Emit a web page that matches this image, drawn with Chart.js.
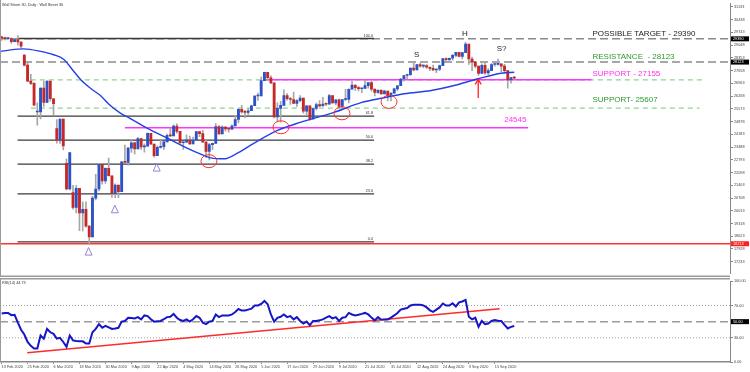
<!DOCTYPE html>
<html><head><meta charset="utf-8">
<script src="https://cdn.jsdelivr.net/npm/chart.js@4.4.1/dist/chart.umd.min.js"></script>
<style>
html,body{margin:0;padding:0;background:#fff;}
#wrap{position:relative;width:750px;height:372px;overflow:hidden;background:#fff;}
#main{position:absolute;left:0;top:0;}
#rsi{position:absolute;left:0;top:278px;}
</style></head><body>
<div id="wrap"><canvas id="main" width="750" height="277"></canvas><canvas id="rsi" width="750" height="94"></canvas></div>
<script>
// ---------- DATA ----------
const tickIdx = [0,8,16,24,32,40,48,56,64,72,80,88,96,104,112,120,128,136,144,152];
const tickLabels = ['13 Feb 2020','25 Feb 2020','6 Mar 2020','18 Mar 2020','30 Mar 2020','9 Apr 2020','22 Apr 2020','4 May 2020','14 May 2020','26 May 2020','5 Jun 2020','17 Jun 2020','29 Jun 2020','9 Jul 2020','21 Jul 2020','31 Jul 2020','12 Aug 2020','24 Aug 2020','3 Sep 2020','15 Sep 2020'];
const priceTicks = [17233,17928,18623,19318,20013,20708,21403,22098,22793,23488,24183,24878,25573,26268,26963,27658,28353,29048,29743,30438,31133];

const opens = [
29500,29420,29400,29410,29230,29350,29220,28500,27960,27080,
26960,25400,25410,26700,25920,27090,26120,24500,23850,25020,
22600,21200,21000,20190,21240,19900,20090,19170,18590,20700,
21200,22550,21640,22330,21920,20940,21410,21050,22680,22650,
23430,23720,23390,23950,23500,23540,24240,23650,23020,23470,
23510,23770,24130,24100,24630,24340,23720,23750,23880,23660,
23870,24330,24220,23760,23250,23620,23690,24600,24210,24580,
24470,24460,24640,24990,25550,25400,25380,25470,25740,26270,
26280,27110,27570,27270,26990,25130,25600,25760,26290,26120,
26080,25870,26020,26160,25450,25740,25020,25590,25810,25730,
25830,25820,26290,25890,26070,25710,26080,26090,26640,26870,
26730,26670,26680,26840,27000,26650,26470,26580,26380,26540,
26310,26430,26660,26830,27200,27390,27430,27790,27690,27980,
27900,27930,27840,27780,27690,27740,27930,28310,28250,28330,
28490,28650,28430,28640,29100,28290,28130,27900,27500,27940,
27530,27660,27990,28000,28030,27900,27660,27150,27280];
const highs = [
29530,29480,29440,29450,29420,29570,29240,28530,28160,27450,
27000,25900,26720,27090,27100,27090,26150,24990,25020,25020,
22840,23190,21400,21400,21240,20500,20500,19200,20800,22000,
22600,22550,22360,22880,21920,21480,21410,22700,23600,23470,
23900,23750,24000,23950,23660,24260,24240,23650,23560,23880,
23800,24200,24500,24700,24760,24340,23790,24150,24080,24030,
24330,24330,24400,23870,23690,23700,24770,24660,24640,24610,
24540,24700,25220,25580,25760,25490,25590,25780,26300,26430,
27300,27580,27570,27370,26990,25900,25980,26610,26400,26200,
26490,26080,26290,26160,25750,25740,25600,25900,26020,26200,
25900,26360,26290,26080,26100,26090,26630,26660,27100,26870,
26800,26700,27150,27020,27100,26650,26620,26620,26590,26540,
26440,26700,26850,27240,27400,27470,27800,28100,28000,28050,
27970,27980,27870,27960,27760,27960,28330,28350,28350,28540,
28660,28650,28650,29200,29100,28390,28150,27900,28030,28130,
27770,28040,28100,28290,28030,28000,27660,27290,27350];
const lows = [
29300,29330,29360,29140,29220,29050,28890,27900,27050,26890,
25760,24680,25020,25700,25920,25990,25230,23700,23690,23330,
21150,21150,20100,19900,18920,18910,19120,18210,18590,20600,
21100,21460,21500,21900,20740,20730,20730,21050,22630,22500,
23200,23100,23390,23360,23210,23540,23640,22940,23020,23420,
23360,23770,24060,24100,24240,23640,23360,23750,23630,23660,
23870,24060,23760,22920,22790,23350,23690,24180,24210,24350,
24300,24440,24640,24800,25330,25080,25220,25470,25740,26030,
26280,27110,27150,26950,25080,24860,24840,25760,26050,25810,
25870,25700,25950,25330,25240,24960,25010,25510,25680,25730,
25750,25820,25880,25790,25620,25570,26020,25900,26640,26570,
26550,26460,26680,26700,26540,26280,26410,26370,26380,26000,
26000,26430,26550,26830,27080,27200,27400,27640,27690,27840,
27800,27770,27650,27650,27550,27650,27930,28130,28150,28230,
28400,28410,28300,28640,28000,27660,27800,27400,27500,27450,
27440,27660,27900,27960,27600,27500,26700,26970,27180];
const closes = [
29420,29400,29410,29230,29350,29220,28990,27960,27080,26960,
25770,25410,26700,25920,27090,26120,25860,23850,25020,23550,
21200,23180,20190,21240,19900,20090,19170,18590,20700,21200,
22550,21640,22330,21920,20940,21410,21050,22680,22650,23430,
23720,23390,23950,23500,23540,24240,23650,23020,23470,23510,
23770,24130,24100,24630,24340,23720,23750,23880,23660,23870,
24330,24220,23760,23250,23620,23690,24600,24210,24580,24470,
24460,24640,24990,25550,25400,25380,25470,25740,26270,26280,
27110,27570,27270,26990,25130,25600,25760,26290,26120,26080,
25870,26020,26160,25450,25740,25020,25590,25810,25730,25830,
25820,26290,25890,26070,25710,26080,26090,26640,26870,26730,
26670,26680,26840,27000,26650,26470,26580,26380,26540,26310,
26430,26660,26830,27200,27390,27430,27790,27690,27980,27900,
27930,27840,27780,27690,27740,27930,28310,28250,28330,28490,
28650,28430,28640,29100,28290,28130,27900,27500,27940,27530,
27660,27990,28000,28030,27900,27660,27150,27280,27250];

const maIdx = [-0.3,2.8,6.8,12,16,19.1,21.9,24.4,27.5,30.6,33.6,36.7,39.8,43.8,46,51.2,56.2,60.5,64.5,68.5,72.8,76.9,85.2,92.3,102.5,110.8,117.9,124.1,132.4,138.6,146.9,154,158];
const maVal = [28705,28790,28843,28705,28524,28279,27693,27160,26681,26271,25738,25328,25030,24620,24407,23965,23517,23166,22899,22846,23166,23608,24407,24849,25381,25914,26180,26393,26574,26803,27213,27512,27565];

const rsi = [
60.1,60.8,60.8,58,58.5,48.8,40,34,24.8,20,
16.8,16.8,32.8,28.9,40.9,36.8,34.9,28.9,30,24.8,
18.8,32.8,26.8,26,25.8,25.6,22.8,22.8,36.8,41,
46.9,42.4,44.8,43,40.9,41.5,42.4,50,50.8,54.8,
54.5,54,55.6,52.8,57.7,56.9,53,50,50.5,50.8,
53,55.6,56,59.6,54.8,52,50.8,52.8,50,53,
56.9,54.8,48.8,46.9,50,50.8,58.9,55.6,57.7,57.7,
57.7,58.9,62,65.6,63.7,63.7,64.9,66.1,70,70,
72,75.7,71.6,58.9,50,54.8,56,58.9,55.6,56.9,
52.8,55.6,50.8,47.6,50,45.7,50.8,50.8,51.6,52.8,
55,56.9,54,55.6,50.8,54.8,55.6,60.8,58.9,57.7,
58.5,59.6,60.8,58.9,55,51.6,55.6,52.4,52.8,52.8,
55,57.7,60.8,64.9,66,66.8,70,70.8,70.8,70.8,
70,67.6,64,62,64.9,67.6,72.5,70,70,72.8,
68.8,74,75,76.9,56,52.8,54.8,43.6,50.8,46.9,
47.6,50.8,52,51,50.8,46,41.6,43.5,44.7];

const fibPcts = [0, 23.6, 38.2, 50, 61.8, 100];
const fibLow = 18320, fibHigh = 29410;
const targetPrice = 29390, resistancePrice = 28123, support1 = 27155, support2 = 25607, support3 = 24545, lowPrice = 18213;
const rsiLevels = [30, 50, 70];
const rsiTrend = [{i:7.9, v:11.6},{i:153.5, v:65.9}];

// ---------- LAYOUT / STYLE ----------
const XMIN = -0.5, XMAX = 224.5;
const FONT = '"Liberation Sans", Arial, sans-serif';
Chart.defaults.font.family = FONT;

function seg(x0, x1, v, color, width, dash, order){
  return {type:'line', data:[{x:x0,y:v},{x:x1,y:v}], borderColor:color, borderWidth:width, borderDash:dash||[], pointRadius:0, order:order||3, parsing:true};
}

const fibDs = fibPcts.map(p => seg(4.9, 114.8, fibLow + (fibHigh-fibLow)*p/100, '#3a3a3a', 1.3, [], 4));
const lineDs = [
  seg(XMIN, XMAX, targetPrice, '#8a8a8a', 1.5, [8,4], 5),
  seg(XMIN, XMAX, resistancePrice, '#8a8a8a', 1.5, [8,4], 5),
  seg(9, 216.4, support1, '#8fd48f', 1.2, [5,4], 5),
  seg(9, 215.1, support2, '#8fd48f', 1.2, [5,4], 5),
  seg(80.6, 181.8, support1, '#ff33ff', 1.5, [], 4),
  seg(38, 162.3, support3, '#ff33ff', 1.5, [], 4),
  seg(XMIN, XMAX, lowPrice, '#ff3333', 1.5, [], 4)
];

const wickDs = {type:'bar', data: highs.map((h,i)=>({x:i, y:[lows[i], h]})), backgroundColor:'#a6a6a6', barThickness:1, grouped:false, order:2};
const bodyDs = {type:'bar', data: opens.map((o,i)=>({x:i, y:[Math.min(o,closes[i]), Math.max(o,closes[i])]})),
  backgroundColor: opens.map((o,i)=> closes[i] >= o ? '#2d52c6' : '#c62828'), barThickness:2.2, grouped:false, minBarLength:1, order:1};
const maDs = {type:'line', data: maIdx.map((v,k)=>({x:v, y:maVal[k]})), borderColor:'#2340e6', borderWidth:1.4, pointRadius:0, cubicInterpolationMode:'monotone', order:0};

const texts = [
  {t:'POSSIBLE TARGET - 29390', i:182.1, p:29669, c:'#1a1a1a'},
  {t:'RESISTANCE  - 28123', i:182.1, p:28401, c:'#2e9a2e'},
  {t:'SUPPORT - 27155', i:182.1, p:27480, c:'#ff33ee'},
  {t:'SUPPORT- 25607', i:182.1, p:26058, c:'#2e9a2e'},
  {t:'24545', i:154.9, p:24955, c:'#ff33ee'},
  {t:'S', i:127.1, p:28524, c:'#222'},
  {t:'H', i:141.9, p:29642, c:'#222'},
  {t:'S?', i:152.6, p:28843, c:'#222'}
];
const circles = [{i:63.9,p:22718},{i:86.1,p:24566},{i:104.9,p:25328},{i:119.4,p:25951}];
const triangles = [{i:26.8,p:17787},{i:34.9,p:20093},{i:47.8,p:22367}];
const arrow = {i:146.9, from:26164, to:27176};
const boxes = [{v:targetPrice, t:'29390', c:'#000'},{v:resistancePrice, t:'28123', c:'#000'},{v:lowPrice, t:'18213', c:'#ff2020'}];

const annPlugin = {
  id:'ann',
  afterDatasetsDraw(chart){
    const {ctx, scales:{x,y}} = chart;
    const X = v => x.getPixelForValue(v), Y = v => y.getPixelForValue(v);
    ctx.save();
    // fib labels
    ctx.font = '3.8px ' + FONT; ctx.fillStyle = '#333'; ctx.textAlign = 'right'; ctx.textBaseline = 'bottom';
    fibPcts.forEach(p => { const v = fibLow + (fibHigh-fibLow)*p/100; ctx.fillText(p.toFixed(1), X(114.5), Y(v) - 1); });
    // texts
    ctx.textBaseline = 'middle';
    texts.forEach(o => {
      ctx.font = '8px ' + FONT; ctx.fillStyle = o.c;
      ctx.textAlign = (o.t.length <= 2) ? 'left' : 'left';
      ctx.fillText(o.t, X(o.i), Y(o.p));
    });
    // circles
    ctx.strokeStyle = '#ff3030'; ctx.lineWidth = 1;
    circles.forEach(o => { ctx.beginPath(); ctx.ellipse(X(o.i), Y(o.p), 8, 6.5, 0, 0, Math.PI*2); ctx.stroke(); });
    // triangles
    ctx.strokeStyle = '#9b80d6'; ctx.lineWidth = 1;
    triangles.forEach(o => { const cx = X(o.i), cy = Y(o.p); ctx.beginPath(); ctx.moveTo(cx, cy-4); ctx.lineTo(cx-3.5, cy+3.5); ctx.lineTo(cx+3.5, cy+3.5); ctx.closePath(); ctx.stroke(); });
    // arrow
    const ax = X(arrow.i), ay0 = Y(arrow.from), ay1 = Y(arrow.to);
    ctx.strokeStyle = '#ff2020'; ctx.lineWidth = 1.3;
    ctx.beginPath(); ctx.moveTo(ax, ay0); ctx.lineTo(ax, ay1); ctx.stroke();
    ctx.beginPath(); ctx.moveTo(ax-3, ay1+5); ctx.lineTo(ax, ay1); ctx.lineTo(ax+3, ay1+5); ctx.stroke();
    // right-axis boxes
    boxes.forEach(b => { const yy = Y(b.v); ctx.fillStyle = b.c; ctx.fillRect(731, yy-2.5, 18, 5); ctx.fillStyle = '#fff'; ctx.font = '3.8px ' + FONT; ctx.textAlign = 'left'; ctx.fillText(b.t, 733, yy); });
    // title
    ctx.fillStyle = '#333'; ctx.font = '3.8px ' + FONT; ctx.textAlign = 'left'; ctx.textBaseline = 'middle';
    ctx.fillText('Wall Street 30, Daily : Wall Street 30', 2, 5);
    // borders
    ctx.strokeStyle = '#9a9a9a'; ctx.lineWidth = 1.5;
    ctx.beginPath(); ctx.moveTo(0, 276.2); ctx.lineTo(730, 276.2); ctx.stroke();
    ctx.lineWidth = 1; ctx.beginPath(); ctx.moveTo(0.5, 0); ctx.lineTo(0.5, 277); ctx.stroke();
    ctx.restore();
  }
};

new Chart(document.getElementById('main'), {
  data:{datasets:[maDs, bodyDs, wickDs, ...fibDs, ...lineDs]},
  options:{
    responsive:false, animation:false, devicePixelRatio:1,
    layout:{padding:0},
    plugins:{legend:{display:false}, tooltip:{enabled:false}},
    scales:{
      x:{type:'linear', min:XMIN, max:XMAX, offset:false, display:false},
      y:{type:'linear', position:'right', min:16578, max:31330,
        afterFit(s){ s.width = 20; },
        afterBuildTicks(s){ s.ticks = priceTicks.map(v=>({value:v})); },
        ticks:{font:{size:3.8}, color:'#444', padding:1, autoSkip:false, callback:v=>String(v)},
        grid:{drawOnChartArea:false, tickLength:3, color:'#888'},
        border:{color:'#888', width:1}
      }
    }
  },
  plugins:[annPlugin]
});

const rsiPlugin = {
  id:'rsiann',
  afterDatasetsDraw(chart){
    const {ctx, scales:{y}} = chart;
    ctx.save();
    ctx.fillStyle = '#333'; ctx.font = '3.8px ' + FONT; ctx.textBaseline = 'middle'; ctx.textAlign = 'left';
    ctx.fillText('RSI(14) 44.73', 2, 5);
    const yy = y.getPixelForValue(50);
    ctx.fillStyle = '#000'; ctx.fillRect(731, yy-2.5, 18, 5); ctx.fillStyle = '#fff'; ctx.fillText('50.00', 733, yy);
    ctx.strokeStyle = '#9a9a9a'; ctx.lineWidth = 1.5;
    ctx.beginPath(); ctx.moveTo(0, 0.8); ctx.lineTo(730, 0.8); ctx.stroke();
    ctx.lineWidth = 1; ctx.beginPath(); ctx.moveTo(0.5, 0); ctx.lineTo(0.5, 84); ctx.stroke();
    ctx.restore();
  }
};

new Chart(document.getElementById('rsi'), {
  type:'line',
  data:{datasets:[
    {data: rsi.map((v,i)=>({x:i, y:v})), borderColor:'#1616c8', borderWidth:2, pointRadius:0, order:0},
    {data: rsiTrend.map(o=>({x:o.i, y:o.v})), borderColor:'#ff2a2a', borderWidth:1.5, pointRadius:0, order:1},
    {data:[{x:XMIN,y:rsiLevels[1]},{x:XMAX,y:rsiLevels[1]}], borderColor:'#9a9a9a', borderWidth:1.5, borderDash:[8,4], pointRadius:0, order:3},
    {data:[{x:XMIN,y:rsiLevels[0]},{x:XMAX,y:rsiLevels[0]}], borderColor:'#a0a0a0', borderWidth:1, borderDash:[1,2], pointRadius:0, order:3},
    {data:[{x:XMIN,y:rsiLevels[2]},{x:XMAX,y:rsiLevels[2]}], borderColor:'#a0a0a0', borderWidth:1, borderDash:[1,2], pointRadius:0, order:3}
  ]},
  options:{
    responsive:false, animation:false, devicePixelRatio:1,
    layout:{padding:0},
    plugins:{legend:{display:false}, tooltip:{enabled:false}},
    scales:{
      x:{type:'linear', min:XMIN, max:XMAX, offset:false,
        afterFit(s){ s.height = 10; },
        afterBuildTicks(s){ s.ticks = tickIdx.map(v=>({value:v})); },
        ticks:{font:{size:3.8}, color:'#444', align:'start', maxRotation:0, autoSkip:false, padding:1,
          callback:(v)=>{ const k = tickIdx.indexOf(v); return k>=0 ? tickLabels[k] : ''; }},
        grid:{drawOnChartArea:false, tickLength:2, color:'#888'},
        border:{color:'#888', width:1.5}
      },
      y:{type:'linear', position:'right', min:0, max:100,
        afterFit(s){ s.width = 20; },
        afterBuildTicks(s){ s.ticks = [0,30,70,100].map(v=>({value:v})); },
        ticks:{font:{size:3.8}, color:'#444', padding:1, autoSkip:false, callback:v=>v.toFixed(2)},
        grid:{drawOnChartArea:false, tickLength:3, color:'#888'},
        border:{color:'#888', width:1}
      }
    }
  },
  plugins:[rsiPlugin]
});
</script>
</body></html>
